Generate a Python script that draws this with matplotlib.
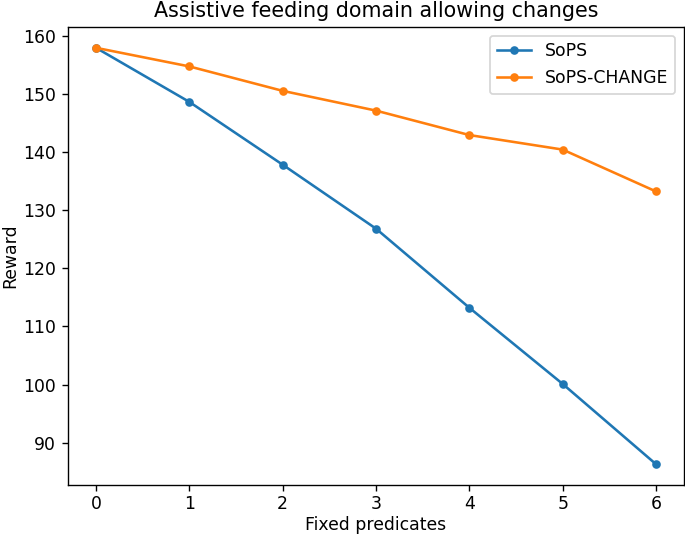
import matplotlib.pyplot as plt

fixed_predicates = [0, 1, 2, 3, 4, 5, 6]
sops_reward = [157.9, 148.6, 137.8, 126.8, 113.2, 100.1, 86.3]
sops_change_reward = [157.9, 154.7, 150.5, 147.1, 142.9, 140.4, 133.2]


def main():
    dpi = 124
    fig = plt.figure(figsize=(685 / dpi, 538 / dpi), dpi=dpi)
    ax = fig.add_axes([68 / 685, 53 / 538, 616 / 685, 458 / 538])

    ax.plot(fixed_predicates, sops_reward, marker='o', markersize=4, label='SoPS')
    ax.plot(fixed_predicates, sops_change_reward, marker='o', markersize=4, label='SoPS-CHANGE')

    ax.set_title('Assistive feeding domain allowing changes')
    ax.set_xlabel('Fixed predicates', labelpad=1.5)
    ax.set_ylabel('Reward', labelpad=2.5)
    ax.tick_params(axis='x', pad=2.5)
    ax.legend(loc='upper right')

    fig.savefig('out.png', dpi=dpi)


if __name__ == '__main__':
    main()
